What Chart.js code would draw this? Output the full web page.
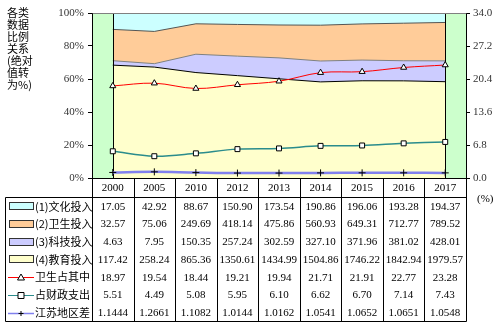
<!DOCTYPE html>
<html>
<head>
<meta charset="utf-8">
<script src="https://cdn.jsdelivr.net/npm/chart.js@4.4.1/dist/chart.umd.min.js"></script>
<style>
  html, body { margin: 0; padding: 0; background: #fff; }
</style>
</head>
<body>
<canvas id="c" width="500" height="326"></canvas>
<script>
// 各类投入（绝对值）及比例指标
const years = ['2000', '2005', '2010', '2012', '2013', '2014', '2015', '2016', '2017'];
const culture = [17.05, 42.92, 88.67, 150.90, 173.54, 190.86, 196.06, 193.28, 194.37];
const health = [32.57, 75.06, 249.69, 418.14, 475.86, 560.93, 649.31, 712.77, 789.52];
const tech = [4.63, 7.95, 150.35, 257.24, 302.59, 327.10, 371.96, 381.02, 428.01];
const edu = [117.42, 258.24, 865.36, 1350.61, 1434.99, 1504.86, 1746.22, 1842.94, 1979.57];
const healthShare = [18.97, 19.54, 18.44, 19.21, 19.94, 21.71, 21.91, 22.77, 23.28];
const fiscalShare = [5.51, 4.49, 5.08, 5.95, 6.10, 6.62, 6.70, 7.14, 7.43];
const regionGap = [1.1444, 1.2661, 1.1082, 1.0144, 1.0162, 1.0541, 1.0652, 1.0651, 1.0548];
const leftTicks = [0, 20, 40, 60, 80, 100];
const rightTicks = [0, 6.8, 13.6, 20.4, 27.2, 34.0];

// 绝对值转为百分比（堆积）
const totals = years.map((_, i) => culture[i] + health[i] + tech[i] + edu[i]);
const pct = arr => arr.map((v, i) => v / totals[i] * 100);

const C_CULTURE = '#CCFFFF', C_HEALTH = '#FFCC99', C_TECH = '#CCCCFF', C_EDU = '#FFFFCC';
const C_RED = '#FF0000', C_TEAL = '#2A8C8C', C_BLUE = '#8080EE';
const serif = '"Liberation Serif", "Times New Roman", serif';
const cjk = '"Noto Sans CJK SC", sans-serif';

const tableRows = [
    { label: '(1)文化投入', values: culture, dp: 2, key: 'box', color: C_CULTURE },
    { label: '(2)卫生投入', values: health, dp: 2, key: 'box', color: C_HEALTH },
    { label: '(3)科技投入', values: tech, dp: 2, key: 'box', color: C_TECH },
    { label: '(4)教育投入', values: edu, dp: 2, key: 'box', color: C_EDU },
    { label: '卫生占其中', values: healthShare, dp: 2, key: 'line', color: C_RED, marker: 'triangle' },
    { label: '占财政支出', values: fiscalShare, dp: 2, key: 'line', color: C_TEAL, marker: 'rect' },
    { label: '江苏地区差', values: regionGap, dp: 4, key: 'line', color: C_BLUE, marker: 'cross' }
];

function drawMarker(ctx, type, x, y) {
    ctx.save();
    ctx.fillStyle = '#fff';
    ctx.strokeStyle = '#000';
    ctx.lineWidth = 1;
    ctx.beginPath();
    if (type === 'triangle') {
        ctx.moveTo(x, y - 3.5); ctx.lineTo(x + 3.5, y + 2.5); ctx.lineTo(x - 3.5, y + 2.5); ctx.closePath();
        ctx.fill(); ctx.stroke();
    } else if (type === 'rect') {
        ctx.rect(x - 3, y - 3, 6, 6);
        ctx.fill(); ctx.stroke();
    } else {
        ctx.moveTo(x - 2.5, y); ctx.lineTo(x + 2.5, y);
        ctx.moveTo(x, y - 2.5); ctx.lineTo(x, y + 2.5);
        ctx.stroke();
    }
    ctx.restore();
}

const chartDecor = {
    id: 'chartDecor',
    beforeDraw(chart) {
        const { ctx, chartArea: a } = chart;
        ctx.save();
        ctx.fillStyle = '#fff';
        ctx.fillRect(0, 0, chart.width, chart.height);
        ctx.fillStyle = '#CCFFCC';
        ctx.fillRect(a.left, a.top, a.right - a.left, a.bottom - a.top);
        ctx.restore();
    },
    afterDatasetDraw(chart, args) {
        // 面积图两端的竖边
        if (args.index !== 0) return;
        const { ctx, chartArea: a } = chart;
        const x = chart.scales.x;
        ctx.save();
        ctx.strokeStyle = '#000';
        ctx.lineWidth = 1;
        [0, years.length - 1].forEach(i => {
            const px = Math.round(x.getPixelForValue(i)) + 0.5;
            ctx.beginPath(); ctx.moveTo(px, a.top); ctx.lineTo(px, a.bottom); ctx.stroke();
        });
        ctx.restore();
    },
    afterDraw(chart) {
        const { ctx, chartArea: a } = chart;
        const x = chart.scales.x;
        const L = Math.round(a.left) + 0.5, R = Math.round(a.right) + 0.5;
        const T = Math.round(a.top) + 0.5, B = Math.round(a.bottom) + 0.5;
        ctx.save();
        ctx.lineWidth = 1;
        // 绘图区边框
        ctx.strokeStyle = '#808080';
        ctx.beginPath(); ctx.moveTo(L, T); ctx.lineTo(R, T); ctx.stroke();
        ctx.strokeStyle = '#000';
        ctx.beginPath(); ctx.moveTo(L, T); ctx.lineTo(L, B); ctx.lineTo(R, B); ctx.lineTo(R, T); ctx.stroke();

        // 标题（竖排）
        ctx.fillStyle = '#000';
        ctx.font = '11px ' + cjk;
        ctx.textAlign = 'left';
        ctx.textBaseline = 'middle';
        ['各类', '数据', '比例', '关系', '(绝对', '值转', '为%)'].forEach((s, i) => ctx.fillText(s, 7, 13 + i * 12));

        // 右轴单位
        ctx.font = '11px ' + serif;
        ctx.fillText('(%)', 477, 199);

        // 数据表
        const n = years.length;
        const colW = (a.right - a.left) / n;
        const headBottom = 197.5;
        const rowH = 17.7;
        const tableBottom = Math.round(headBottom + rowH * tableRows.length) + 0.5;
        ctx.strokeStyle = '#000';
        ctx.beginPath();
        ctx.moveTo(5.5, headBottom); ctx.lineTo(R, headBottom);
        ctx.moveTo(5.5, tableBottom); ctx.lineTo(R, tableBottom);
        ctx.moveTo(5.5, headBottom); ctx.lineTo(5.5, tableBottom);
        for (let k = 0; k <= n; k++) {
            const px = Math.round(a.left + k * colW) + 0.5;
            ctx.moveTo(px, B); ctx.lineTo(px, tableBottom);
        }
        ctx.stroke();

        ctx.textAlign = 'center';
        ctx.font = '11px ' + serif;
        years.forEach((y, i) => ctx.fillText(y, x.getPixelForValue(i), (B + headBottom) / 2 + 0.5));

        tableRows.forEach((row, r) => {
            const cy = headBottom + rowH * r + rowH / 2;
            // 图例键
            if (row.key === 'box') {
                ctx.fillStyle = row.color;
                ctx.fillRect(9.5, Math.round(cy) - 3.5, 24, 7);
                ctx.strokeStyle = '#333';
                ctx.strokeRect(9.5, Math.round(cy) - 3.5, 24, 7);
            } else {
                ctx.strokeStyle = row.color;
                ctx.lineWidth = row.marker === 'cross' ? 1.5 : 1;
                ctx.beginPath(); ctx.moveTo(8, Math.round(cy) + 0.5); ctx.lineTo(34, Math.round(cy) + 0.5); ctx.stroke();
                ctx.lineWidth = 1;
                drawMarker(ctx, row.marker, 21, Math.round(cy) + 0.5);
            }
            ctx.fillStyle = '#000';
            ctx.textAlign = 'left';
            ctx.font = '11px ' + cjk;
            ctx.fillText(row.label, 35, cy);
            ctx.textAlign = 'center';
            ctx.font = '11px ' + serif;
            row.values.forEach((v, i) => ctx.fillText(v.toFixed(row.dp), x.getPixelForValue(i), cy + 0.5));
        });
        ctx.restore();
    }
};

const areaSet = (label, data, fill, color, border) => ({
    label, data, fill, backgroundColor: color, borderColor: border, borderWidth: 1,
    pointRadius: 0, tension: 0, yAxisID: 'y', stack: 'share'
});
const lineSet = (label, data, color, width, style) => ({
    label, data, yAxisID: 'y1', order: -1, fill: false, borderColor: color, borderWidth: width,
    tension: 0.35, pointStyle: style, pointRadius: 3.5, pointBackgroundColor: '#fff',
    pointBorderColor: '#000', pointBorderWidth: 1
});

new Chart(document.getElementById('c'), {
    type: 'line',
    data: {
        labels: years,
        datasets: [
            areaSet('(4)教育投入', pct(edu), 'origin', C_EDU, '#000'),
            areaSet('(3)科技投入', pct(tech), '-1', C_TECH, '#808080'),
            areaSet('(2)卫生投入', pct(health), '-1', C_HEALTH, '#555'),
            areaSet('(1)文化投入', pct(culture), '-1', C_CULTURE, '#808080'),
            lineSet('卫生占其中', healthShare, C_RED, 1, 'triangle'),
            lineSet('占财政支出', fiscalShare, C_TEAL, 1.5, 'rect'),
            lineSet('江苏地区差', regionGap, C_BLUE, 2.5, 'cross')
        ]
    },
    options: {
        responsive: false,
        devicePixelRatio: 1,
        animation: false,
        layout: { padding: { left: 0, right: 0, top: 13, bottom: 148 } },
        plugins: { legend: { display: false }, tooltip: { enabled: false } },
        scales: {
            x: { type: 'category', offset: true, display: false },
            y: {
                position: 'left', stacked: true, min: 0, max: 100,
                afterFit: s => { s.width = 92; },
                afterBuildTicks: s => { s.ticks = leftTicks.map(v => ({ value: v })); },
                grid: { drawOnChartArea: false, tickLength: 4, color: '#000' },
                border: { display: true, color: '#000' },
                ticks: { padding: 4, color: '#333', font: { family: serif, size: 11 }, callback: v => v + '%' }
            },
            y1: {
                position: 'right', stacked: false, min: 0, max: 34,
                afterFit: s => { s.width = 34; },
                afterBuildTicks: s => { s.ticks = rightTicks.map(v => ({ value: v })); },
                grid: { drawOnChartArea: false, tickLength: 4, color: '#000' },
                border: { display: true, color: '#000' },
                ticks: { padding: 3, color: '#333', font: { family: serif, size: 11 }, callback: v => v.toFixed(1) }
            }
        }
    },
    plugins: [chartDecor]
});
</script>
</body>
</html>
